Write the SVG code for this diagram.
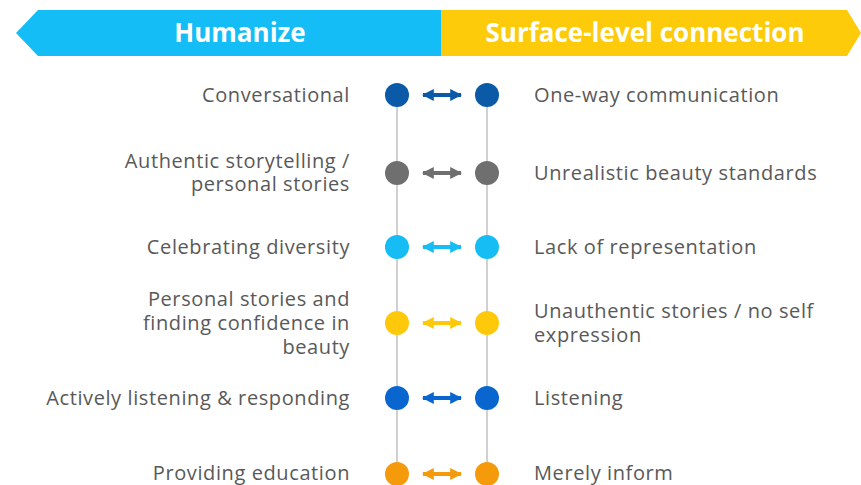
<svg xmlns="http://www.w3.org/2000/svg" width="861" height="485" viewBox="0 0 861 485">
<defs>
<style>
.t{font-family:"Open Sans","DejaVu Sans",sans-serif;font-size:20px;letter-spacing:0.6px;fill:#595959}
.l{text-anchor:end}
.h{font-family:"Open Sans","DejaVu Sans",sans-serif;font-size:26px;font-weight:bold;fill:#fff;text-anchor:middle}
.v{stroke:#d0d0d0;stroke-width:2}
</style>
<marker id="ah" viewBox="0 0 10 10" refX="9" refY="5" markerWidth="3" markerHeight="3" orient="auto-start-reverse" markerUnits="strokeWidth"><path d="M0,0L10,5L0,10z" fill="context-stroke"/></marker>
</defs>
<g id="banner">
<polygon points="16,33 38,10 441,10 441,56 38,56" fill="#15bdf7"/>
<polygon points="441,10 847,10 861,33 847,56 441,56" fill="#fdcb09"/>
<text class="h" x="240" y="42">Humanize</text>
<text class="h" x="645" y="42">Surface-level connection</text>
</g>
<g id="lines">
<line class="v" x1="397" y1="95" x2="397" y2="485"/>
<line class="v" x1="487" y1="95" x2="487" y2="485"/>
</g>
<g id="connectors">
<line x1="423" y1="95" x2="461" y2="95" stroke="#0a5aa8" stroke-width="4" marker-start="url(#ah)" marker-end="url(#ah)"/>
<line x1="423" y1="173" x2="461" y2="173" stroke="#6f6f6f" stroke-width="4" marker-start="url(#ah)" marker-end="url(#ah)"/>
<line x1="423" y1="247" x2="461" y2="247" stroke="#16bdf4" stroke-width="4" marker-start="url(#ah)" marker-end="url(#ah)"/>
<line x1="423" y1="323" x2="461" y2="323" stroke="#fdc90a" stroke-width="4" marker-start="url(#ah)" marker-end="url(#ah)"/>
<line x1="423" y1="398" x2="461" y2="398" stroke="#0a66cf" stroke-width="4" marker-start="url(#ah)" marker-end="url(#ah)"/>
<line x1="423" y1="474" x2="461" y2="474" stroke="#f59a0a" stroke-width="4" marker-start="url(#ah)" marker-end="url(#ah)"/>
</g>
<g id="row1">
<circle cx="397" cy="95" r="12" fill="#0a5aa8"/><circle cx="487" cy="95" r="12" fill="#0a5aa8"/>
<text class="t l" x="350" y="102">Conversational</text>
<text class="t" x="534" y="102">One-way communication</text>
</g>
<g id="row2">
<circle cx="397" cy="173" r="12" fill="#6f6f6f"/><circle cx="487" cy="173" r="12" fill="#6f6f6f"/>
<text class="t l" x="350" y="168">Authentic storytelling /</text>
<text class="t l" x="350" y="191">personal stories</text>
<text class="t" x="534" y="180">Unrealistic beauty standards</text>
</g>
<g id="row3">
<circle cx="397" cy="247" r="12" fill="#16bdf4"/><circle cx="487" cy="247" r="12" fill="#16bdf4"/>
<text class="t l" x="350" y="254">Celebrating diversity</text>
<text class="t" x="534" y="254">Lack of representation</text>
</g>
<g id="row4">
<circle cx="397" cy="323" r="12" fill="#fdc90a"/><circle cx="487" cy="323" r="12" fill="#fdc90a"/>
<text class="t l" x="350" y="306">Personal stories and</text>
<text class="t l" x="350" y="330">finding confidence in</text>
<text class="t l" x="350" y="354">beauty</text>
<text class="t" x="534" y="318">Unauthentic stories / no self</text>
<text class="t" x="534" y="342">expression</text>
</g>
<g id="row5">
<circle cx="397" cy="398" r="12" fill="#0a66cf"/><circle cx="487" cy="398" r="12" fill="#0a66cf"/>
<text class="t l" x="350" y="405">Actively listening &amp; responding</text>
<text class="t" x="534" y="405">Listening</text>
</g>
<g id="row6">
<circle cx="397" cy="474" r="12" fill="#f59a0a"/><circle cx="487" cy="474" r="12" fill="#f59a0a"/>
<text class="t l" x="350" y="480">Providing education</text>
<text class="t" x="534" y="480">Merely inform</text>
</g>
</svg>
